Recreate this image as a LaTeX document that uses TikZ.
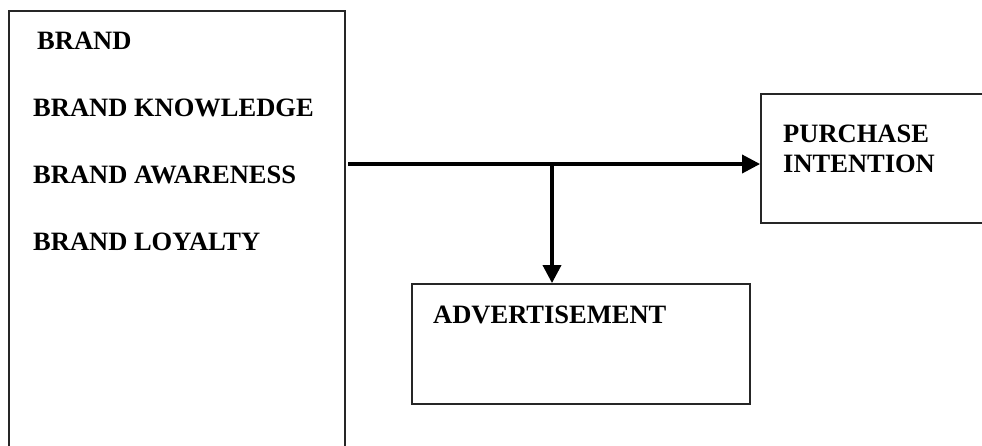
\documentclass[tikz,border=0pt]{standalone}
\usepackage{fontspec}
\setmainfont{Liberation Serif}
\usetikzlibrary{arrows.meta}
\begin{document}
\begin{tikzpicture}[x=1pt,y=-1pt,
  boxst/.style={draw=black!85,line width=1.8pt,rectangle,inner sep=0pt},
  lbl/.style={anchor=base west,inner sep=0pt,font=\fontsize{26.5}{30}\selectfont\bfseries},
  arr/.style={line width=3.5pt,-{Triangle[length=18pt,width=18pt]}}]
\clip (0,0) rectangle (982,445);
\fill[white] (0,0) rectangle (982,445);
% boxes
\node[boxst,minimum width=336pt,minimum height=460pt] (brandbox) at (177,241) {};
\node[boxst,minimum width=240pt,minimum height=129pt] (purch) at (881,158.5) {};
\node[boxst,minimum width=338pt,minimum height=120pt] (adv) at (581,344) {};
% texts
\node[lbl] (t1) at (37,49) {BRAND};
\node[lbl] (t2) at (33,116) {BRAND KNOWLEDGE};
\node[lbl] (t3) at (33,183) {BRAND AWARENESS};
\node[lbl] (t4) at (33,250) {BRAND LOYALTY};
\node[lbl] (t5) at (783,142) {PURCHASE};
\node[lbl] (t6) at (783,172) {INTENTION};
\node[lbl] (t7) at (433,323) {ADVERTISEMENT};
% connectors
\coordinate (s) at (348,164);
\coordinate (j) at (552,164);
\draw[arr] (s) -- (s -| purch.west);
\draw[arr] (j) -- (j |- adv.north);
\end{tikzpicture}
\end{document}
